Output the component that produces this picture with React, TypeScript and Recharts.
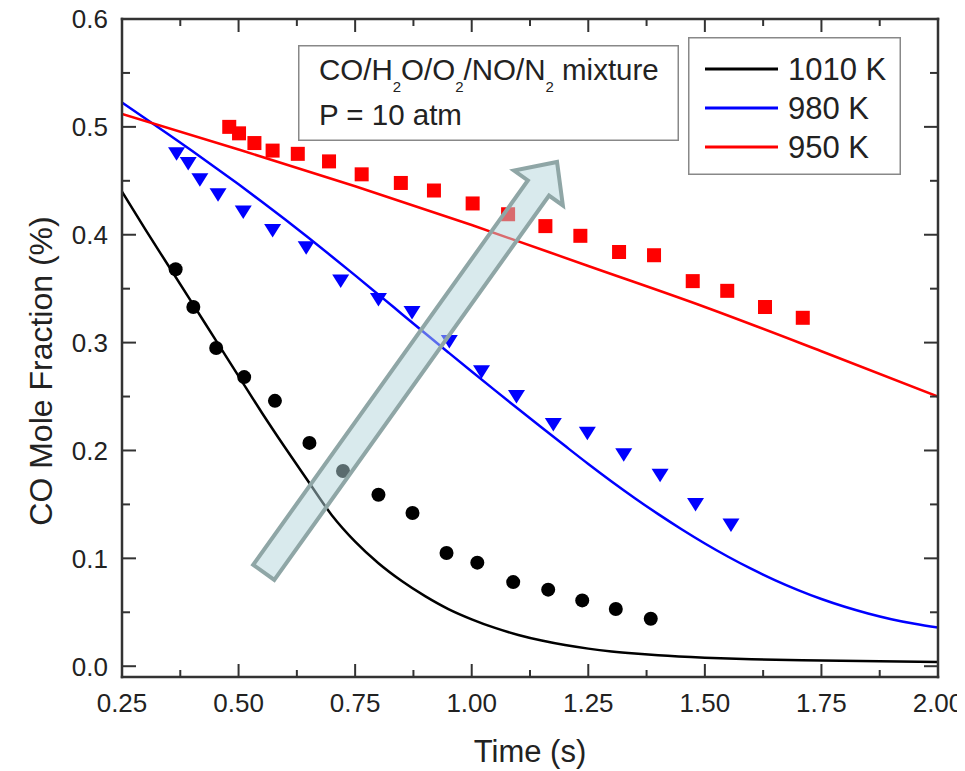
import React from "react";
import {
  ComposedChart,
  Line,
  Scatter,
  XAxis,
  YAxis,
  Legend,
  ReferenceLine,
} from "recharts";

const FONT = '"Liberation Sans", Arial, Helvetica, sans-serif';
const INK = "#222";
const FRAME = "#333";

// measured points (symbols)
const circTime = [0.365, 0.403, 0.452, 0.512, 0.578, 0.652, 0.724, 0.8, 0.873, 0.946, 1.012, 1.089, 1.164, 1.237, 1.309, 1.384];
const circCO = [0.368, 0.333, 0.295, 0.268, 0.246, 0.207, 0.181, 0.159, 0.142, 0.105, 0.096, 0.078, 0.071, 0.061, 0.053, 0.044];

const triTime = [0.367, 0.392, 0.417, 0.456, 0.51, 0.573, 0.645, 0.719, 0.8, 0.872, 0.952, 1.021, 1.096, 1.175, 1.248, 1.326, 1.404, 1.48, 1.556];
const triCO = [0.475, 0.466, 0.451, 0.437, 0.421, 0.404, 0.388, 0.357, 0.34, 0.328, 0.301, 0.273, 0.25, 0.224, 0.216, 0.196, 0.177, 0.15, 0.131];

const sqTime = [0.48, 0.501, 0.534, 0.573, 0.627, 0.694, 0.764, 0.848, 0.919, 1.002, 1.078, 1.158, 1.233, 1.316, 1.391, 1.474, 1.548, 1.629, 1.71];
const sqCO = [0.5, 0.494, 0.485, 0.478, 0.475, 0.468, 0.456, 0.448, 0.441, 0.429, 0.419, 0.408, 0.399, 0.384, 0.381, 0.357, 0.348, 0.333, 0.323];

// model curves
const k1010Time = [0.25, 0.3, 0.35, 0.4, 0.45, 0.5, 0.55, 0.6, 0.65, 0.7, 0.75, 0.8, 0.85, 0.9, 0.95, 1.0, 1.05, 1.1, 1.15, 1.2, 1.25, 1.3, 1.35, 1.4, 1.5, 1.6, 1.75, 2.0];
const k1010CO = [0.44, 0.405, 0.371, 0.337, 0.303, 0.269, 0.235, 0.2025, 0.171, 0.14, 0.1155, 0.0955, 0.079, 0.065, 0.053, 0.0435, 0.0355, 0.029, 0.0238, 0.0196, 0.0163, 0.0137, 0.0117, 0.0101, 0.0079, 0.0065, 0.0052, 0.0038];

const k980Time = [0.25, 0.3, 0.35, 0.4, 0.45, 0.5, 0.55, 0.6, 0.65, 0.7, 0.75, 0.8, 0.85, 0.9, 0.95, 1.0, 1.05, 1.1, 1.15, 1.2, 1.25, 1.3, 1.35, 1.4, 1.45, 1.5, 1.55, 1.6, 1.65, 1.7, 1.75, 1.8, 1.85, 1.9, 1.95, 2.0];
const k980CO = [0.5225, 0.5078, 0.4929, 0.4778, 0.4624, 0.4467, 0.4306, 0.4141, 0.3972, 0.3799, 0.3623, 0.3445, 0.3266, 0.3087, 0.2909, 0.2732, 0.2557, 0.2384, 0.2213, 0.2043, 0.1875, 0.1713, 0.1558, 0.141, 0.127, 0.1138, 0.1015, 0.0902, 0.0799, 0.0706, 0.0623, 0.0551, 0.0489, 0.0436, 0.0393, 0.0358];

const k950Time = [0.25, 0.5, 0.75, 1.0, 1.25, 1.5, 1.75, 2.0];
const k950CO = [0.512, 0.479, 0.445, 0.409, 0.371, 0.333, 0.292, 0.25];

const SERIES_ORDER = ["1010 K", "980 K", "950 K"];

const X_TICKS = [0.25, 0.375, 0.5, 0.625, 0.75, 0.875, 1, 1.125, 1.25, 1.375, 1.5, 1.625, 1.75, 1.875, 2];
const Y_TICKS = [0, 0.05, 0.1, 0.15, 0.2, 0.25, 0.3, 0.35, 0.4, 0.45, 0.5, 0.55, 0.6];

// annotation arrow (data coords): tail centre -> tip
const ARROW_FROM = { x: 0.554, y: 0.087 };
const ARROW_TO = { x: 1.183, y: 0.4675 };

const zip = (xs: number[], ys: number[]) => xs.map((x, i) => ({ x, y: ys[i] }));

const circles = zip(circTime, circCO);
const triangles = zip(triTime, triCO);
const squares = zip(sqTime, sqCO);
const line1010 = zip(k1010Time, k1010CO);
const line980 = zip(k980Time, k980CO);
const line950 = zip(k950Time, k950CO);

const isMajor = (v: number, step: number) => Math.abs(v / step - Math.round(v / step)) < 1e-6;

function BottomTick(props: any) {
  const { x, y, payload } = props;
  const major = isMajor(payload.value, 0.25);
  return (
    <g>
      <line x1={x} x2={x} y1={y} y2={y - (major ? 13 : 7)} stroke={FRAME} strokeWidth={2} />
      {major && (
        <text x={x} y={y + 35} textAnchor="middle" fontSize={26} fill={INK} fontFamily={FONT}>
          {payload.value.toFixed(2)}
        </text>
      )}
    </g>
  );
}

function TopTick(props: any) {
  const { x, y, payload } = props;
  const major = isMajor(payload.value, 0.25);
  return <line x1={x} x2={x} y1={y} y2={y + (major ? 13 : 7)} stroke={FRAME} strokeWidth={2} />;
}

function LeftTick(props: any) {
  const { x, y, payload } = props;
  const major = isMajor(payload.value, 0.1);
  return (
    <g>
      <line x1={x} x2={x + (major ? 14 : 8)} y1={y} y2={y} stroke={FRAME} strokeWidth={2} />
      {major && (
        <text x={x - 14} y={y} dy="0.36em" textAnchor="end" fontSize={26} fill={INK} fontFamily={FONT}>
          {payload.value.toFixed(1)}
        </text>
      )}
    </g>
  );
}

function RightTick(props: any) {
  const { x, y, payload } = props;
  const major = isMajor(payload.value, 0.1);
  return <line x1={x} x2={x - (major ? 14 : 8)} y1={y} y2={y} stroke={FRAME} strokeWidth={2} />;
}

const XTitle = (p: any) => {
  const vb = p.viewBox;
  return (
    <text x={vb.x + vb.width / 2} y={vb.y + 85} textAnchor="middle" fontSize={31} fill={INK} fontFamily={FONT}>
      Time (s)
    </text>
  );
};

const YTitle = () => (
  <text x={52} y={371} transform="rotate(-90 52 371)" textAnchor="middle" fontSize={32} fill={INK} fontFamily={FONT}>
    CO Mole Fraction (%)
  </text>
);

const Dot = (p: any) => <circle cx={p.cx} cy={p.cy} r={7} fill="#000" />;
const Square = (p: any) => <rect x={p.cx - 7} y={p.cy - 7} width={14} height={14} fill="#ff0000" />;
const DownTri = (p: any) => (
  <polygon
    points={`${p.cx - 8.5},${p.cy - 6.5} ${p.cx + 8.5},${p.cy - 6.5} ${p.cx},${p.cy + 7}`}
    fill="#0000ff"
  />
);

const ArrowShape = (p: any) => {
  const { x1, y1, x2, y2 } = p;
  const len = Math.hypot(x2 - x1, y2 - y1);
  const ux = (x2 - x1) / len;
  const uy = (y2 - y1) / len;
  const nx = -uy;
  const ny = ux;
  const w = 13;
  const h = 30;
  const L = 32;
  const bx = x2 - ux * L;
  const by = y2 - uy * L;
  const pts = [
    [x1 + nx * w, y1 + ny * w],
    [bx + nx * w, by + ny * w],
    [bx + nx * h, by + ny * h],
    [x2, y2],
    [bx - nx * h, by - ny * h],
    [bx - nx * w, by - ny * w],
    [x1 - nx * w, y1 - ny * w],
  ]
    .map((q) => q.join(","))
    .join(" ");
  return (
    <polygon
      points={pts}
      fill="rgb(180,214,220)"
      fillOpacity={0.5}
      stroke="#8fa6a6"
      strokeWidth={4}
      strokeLinejoin="miter"
    />
  );
};

const LegendBox = (props: any) => {
  const items = (props.payload || [])
    .filter((e: any) => SERIES_ORDER.includes(e.value))
    .sort((a: any, b: any) => SERIES_ORDER.indexOf(a.value) - SERIES_ORDER.indexOf(b.value));
  const rows = [32, 71, 110];
  return (
    <svg width={213} height={138} style={{ display: "block" }}>
      <rect x={0.75} y={0.75} width={211.5} height={136.5} fill="#fff" stroke="#888" strokeWidth={1.5} />
      {items.map((e: any, i: number) => (
        <g key={e.value}>
          <line x1={17} x2={90} y1={rows[i]} y2={rows[i]} stroke={e.color} strokeWidth={3} />
          <text x={100} y={rows[i]} dy="0.36em" fontSize={31} fill={INK} fontFamily={FONT}>
            {e.value}
          </text>
        </g>
      ))}
    </svg>
  );
};

function Note() {
  const sub = { fontSize: 15, dy: 12 };
  return (
    <svg width={381} height={96} style={{ position: "absolute", left: 298, top: 45 }}>
      <rect x={0.75} y={0.75} width={379.5} height={94.5} fill="#fff" stroke="#888" strokeWidth={1.5} />
      <text x={21} y={35} fontSize={29.5} fill={INK} fontFamily={FONT}>
        CO/H<tspan {...sub}>2</tspan>
        <tspan dy={-12}>O/O</tspan>
        <tspan {...sub}>2</tspan>
        <tspan dy={-12}>/NO/N</tspan>
        <tspan {...sub}>2</tspan>
        <tspan dy={-12}> mixture</tspan>
      </text>
      <text x={21} y={80} fontSize={29.5} fill={INK} fontFamily={FONT}>
        P = 10 atm
      </text>
    </svg>
  );
}

const axisLine = { stroke: FRAME, strokeWidth: 2.5, strokeLinecap: "square" as const };

export default function App() {
  return (
    <div style={{ position: "relative", margin: "-8px 0 0 -8px", width: 965, height: 771, background: "#fff" }}>
      <ComposedChart width={965} height={771} margin={{ top: 9, right: 17, bottom: 34, left: 62 }}>
        <XAxis
          dataKey="x"
          type="number"
          domain={[0.25, 2]}
          allowDataOverflow
          ticks={X_TICKS}
          interval={0}
          height={60}
          tickSize={0}
          tickMargin={0}
          tickLine={false}
          axisLine={axisLine}
          tick={<BottomTick />}
          label={XTitle}
        />
        <XAxis
          xAxisId="top"
          orientation="top"
          dataKey="x"
          type="number"
          domain={[0.25, 2]}
          allowDataOverflow
          ticks={X_TICKS}
          interval={0}
          height={10}
          tickSize={0}
          tickMargin={0}
          tickLine={false}
          axisLine={axisLine}
          tick={<TopTick />}
        />
        <YAxis
          type="number"
          domain={[-0.01, 0.6]}
          allowDataOverflow
          ticks={Y_TICKS}
          interval={0}
          width={60}
          tickSize={0}
          tickMargin={0}
          tickLine={false}
          axisLine={axisLine}
          tick={<LeftTick />}
          label={YTitle}
        />
        <YAxis
          yAxisId="right"
          orientation="right"
          type="number"
          domain={[-0.01, 0.6]}
          allowDataOverflow
          ticks={Y_TICKS}
          interval={0}
          width={10}
          tickSize={0}
          tickMargin={0}
          tickLine={false}
          axisLine={axisLine}
          tick={<RightTick />}
        />
        <Legend
          layout="horizontal"
          verticalAlign="middle"
          align="center"
          content={LegendBox}
          wrapperStyle={{ position: "absolute", left: 688, top: 37, width: 213, height: 138, bottom: "auto" }}
        />
        <Line data={line1010} dataKey="y" name="1010 K" type="monotone" stroke="#000000" strokeWidth={2.5} dot={false} isAnimationActive={false} />
        <Line data={line980} dataKey="y" name="980 K" type="monotone" stroke="#0000ff" strokeWidth={2.5} dot={false} isAnimationActive={false} />
        <Line data={line950} dataKey="y" name="950 K" type="monotone" stroke="#ff0000" strokeWidth={2.5} dot={false} isAnimationActive={false} />
        <Scatter data={circles} dataKey="y" name="1010 K exp" legendType="none" shape={Dot} isAnimationActive={false} />
        <Scatter data={triangles} dataKey="y" name="980 K exp" legendType="none" shape={DownTri} isAnimationActive={false} />
        <Scatter data={squares} dataKey="y" name="950 K exp" legendType="none" shape={Square} isAnimationActive={false} />
        <ReferenceLine
          segment={[ARROW_FROM, ARROW_TO]}
          shape={ArrowShape}
          ifOverflow="visible"
          {...({ zIndex: 900 } as any)}
        />
      </ComposedChart>
      <Note />
    </div>
  );
}
